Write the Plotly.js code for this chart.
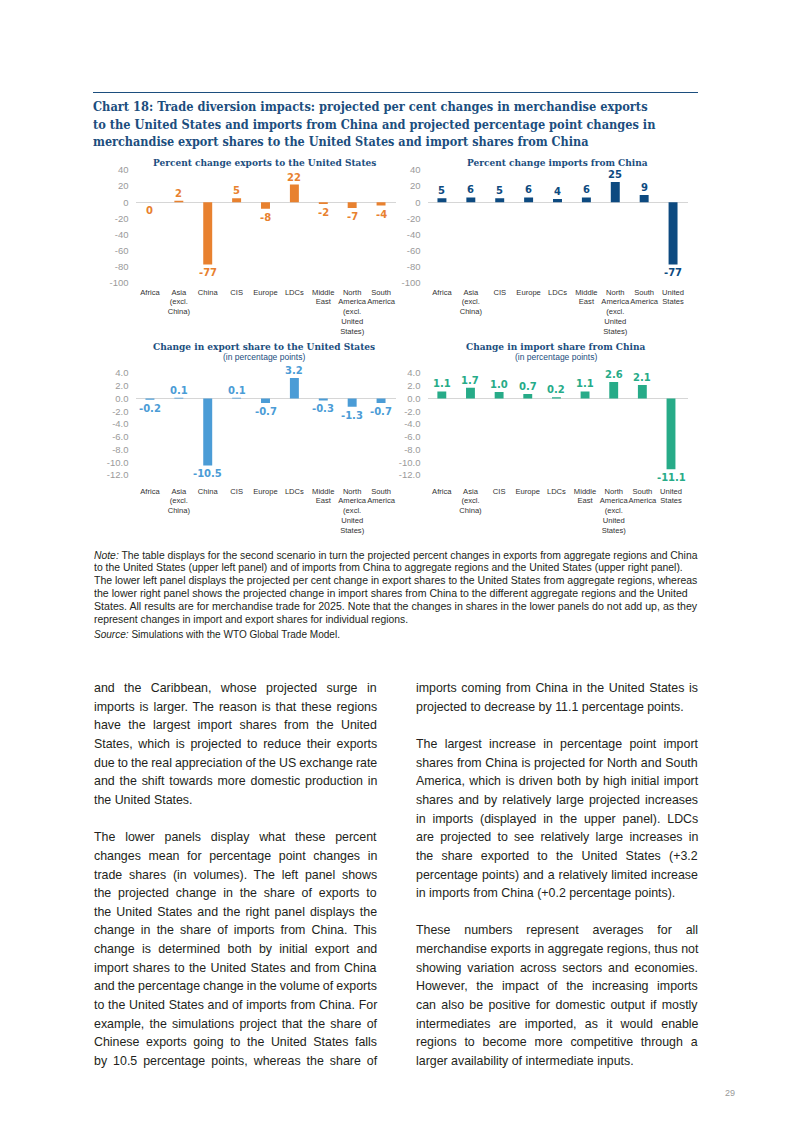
<!DOCTYPE html>
<html>
<head>
<meta charset="utf-8">
<script src="https://cdn.plot.ly/plotly-3.0.1.min.js"></script>
<style>
html,body{margin:0;padding:0;background:#fff;}
#page{position:relative;width:793px;height:1121px;overflow:hidden;background:#fff;}
#chart{position:absolute;left:0;top:0;width:793px;height:1121px;}
.ln{position:absolute;white-space:nowrap;}
</style>
</head>
<body>
<div id="page">
  <div id="chart"></div>
  <div id="text"></div>
</div>
<script>
// ---------------- DATA ----------------
const categoriesExport = ['Africa','Asia<br>(excl.<br>China)','China','CIS','Europe','LDCs','Middle<br>East','North<br>America<br>(excl.<br>United<br>States)','South<br>America'];
const categoriesImport = ['Africa','Asia<br>(excl.<br>China)','CIS','Europe','LDCs','Middle<br>East','North<br>America<br>(excl.<br>United<br>States)','South<br>America','United<br>States'];

const pctChangeExportsToUS = [0, 2, -77, 5, -8, 22, -2, -7, -4];
const pctChangeImportsFromChina = [5, 6, 5, 6, 4, 6, 25, 9, -77];
const exportShareChangeUS = [-0.2, 0.1, -10.5, 0.1, -0.7, 3.2, -0.3, -1.3, -0.7];
const importShareChangeChina = [1.1, 1.7, 1.0, 0.7, 0.2, 1.1, 2.6, 2.1, -11.1];

const pctTickVals = [40, 20, 0, -20, -40, -60, -80, -100];
const pctTickText = ['40', '20', '0', '-20', '-40', '-60', '-80', '-100'];
const ppTickVals = [4, 2, 0, -2, -4, -6, -8, -10, -12];
const ppTickText = ['4.0', '2.0', '0.0', '-2.0', '-4.0', '-6.0', '-8.0', '-10.0', '-12.0'];

const panelTitles = ['Percent change exports to the United States', 'Percent change imports from China',
                     'Change in export share to the United States', 'Change in import share from China'];
const panelSubtitle = '(in percentage points)';

// ---------------- LAYOUT HELPERS ----------------
const W = 793, H = 1121;
const fx = px => px / W;
const fy = py => 1 - py / H;

const colOrange = '#E8812F', colNavy = '#0D4A80', colLight = '#4B9CD6', colGreen = '#27AB88';
const titleBlue = '#1C4E7E';
const serifBold = '"DejaVu Serif Condensed", "DejaVu Serif", serif';
const sans = '"Liberation Sans", Arial, sans-serif';
const labelFont = '"DejaVu Sans", sans-serif';

const xLeftDom = [fx(135.5), fx(395.5)];
const xRightDom = [fx(427.5), fx(687.5)];
const yTopDom = [fy(286), fy(170)];
const yBotDom = [fy(485), fy(373)];

function xAxis(dom, anchor) {
  return {domain: dom, anchor: anchor, type: 'category', showgrid: false, showline: false, zeroline: false,
          ticks: '', tickfont: {family: sans, size: 7.6, color: '#333'}, tickangle: 0, fixedrange: true};
}
function yAxis(dom, anchor, range, vals, text) {
  return {domain: dom, anchor: anchor, range: range, tickvals: vals, ticktext: text, showgrid: false,
          showline: false, zeroline: true, zerolinecolor: '#d6d6d6', zerolinewidth: 1, ticks: '',
          ticklabelstandoff: 6, tickfont: {family: sans, size: 9.5, color: '#9a9a9a'}, fixedrange: true};
}
function barTrace(cats, vals, color, xa, ya) {
  return {type: 'bar', x: cats, y: vals, xaxis: xa, yaxis: ya, width: 0.31,
          marker: {color: color, line: {width: 0}}, hoverinfo: 'skip', showlegend: false};
}
function valueLabels(cats, vals, color, xa, ya, dec) {
  return vals.map((v, i) => ({
    xref: xa, yref: ya, x: cats[i], y: v, text: v.toFixed(dec), showarrow: false,
    yanchor: v > 0 ? 'bottom' : 'top', yshift: v > 0 ? 0 : -1,
    font: {family: labelFont, size: 10, color: color, weight: 'bold'}
  }));
}
function paperText(text, px, py, size, family, color, bold) {
  return {xref: 'paper', yref: 'paper', x: fx(px), y: fy(py), xanchor: 'center', yanchor: 'middle',
          text: bold ? '<b>' + text + '</b>' : text, showarrow: false,
          font: {family: family, size: size, color: color}};
}

const data = [
  barTrace(categoriesExport, pctChangeExportsToUS, colOrange, 'x', 'y'),
  barTrace(categoriesImport, pctChangeImportsFromChina, colNavy, 'x2', 'y2'),
  barTrace(categoriesExport, exportShareChangeUS, colLight, 'x3', 'y3'),
  barTrace(categoriesImport, importShareChangeChina, colGreen, 'x4', 'y4')
];

const annotations = [].concat(
  valueLabels(categoriesExport, pctChangeExportsToUS, colOrange, 'x', 'y', 0),
  valueLabels(categoriesImport, pctChangeImportsFromChina, colNavy, 'x2', 'y2', 0),
  valueLabels(categoriesExport, exportShareChangeUS, colLight, 'x3', 'y3', 1),
  valueLabels(categoriesImport, importShareChangeChina, colGreen, 'x4', 'y4', 1),
  [
    paperText(panelTitles[0], 264, 162, 10, serifBold, titleBlue, true),
    paperText(panelTitles[1], 557, 162, 10, serifBold, titleBlue, true),
    paperText(panelTitles[2], 264, 346, 10, serifBold, titleBlue, true),
    paperText(panelTitles[3], 556, 346, 10, serifBold, titleBlue, true),
    paperText(panelSubtitle, 264, 357, 8.5, sans, titleBlue, false),
    paperText(panelSubtitle, 556, 357, 8.5, sans, titleBlue, false)
  ]
);

const layout = {
  width: W, height: H, margin: {l: 0, r: 0, t: 0, b: 0},
  paper_bgcolor: 'rgba(0,0,0,0)', plot_bgcolor: 'rgba(0,0,0,0)',
  showlegend: false, bargap: 0.69,
  xaxis: xAxis(xLeftDom, 'y'),
  yaxis: yAxis(yTopDom, 'x', [-103.7, 40], pctTickVals, pctTickText),
  xaxis2: xAxis(xRightDom, 'y2'),
  yaxis2: yAxis(yTopDom, 'x2', [-103.7, 40], pctTickVals, pctTickText),
  xaxis3: xAxis(xLeftDom, 'y3'),
  yaxis3: yAxis(yBotDom, 'x3', [-13.57, 4], ppTickVals, ppTickText),
  xaxis4: xAxis(xRightDom, 'y4'),
  yaxis4: yAxis(yBotDom, 'x4', [-13.57, 4], ppTickVals, ppTickText),
  annotations: annotations
};

Plotly.newPlot('chart', data, layout, {staticPlot: true, displayModeBar: false});

// ---------------- PAGE TEXT ----------------
const chartTitleLines = [
  'Chart 18: Trade diversion impacts: projected per cent changes in merchandise exports',
  'to the United States and imports from China and projected percentage point changes in',
  'merchandise export shares to the United States and import shares from China'
];
const noteLines = [
  '<i>Note:</i> The table displays for the second scenario in turn the projected percent changes in exports from aggregate regions and China',
  'to the United States (upper left panel) and of imports from China to aggregate regions and the United States (upper right panel).',
  'The lower left panel displays the projected per cent change in export shares to the United States from aggregate regions, whereas',
  'the lower right panel shows the projected change in import shares from China to the different aggregate regions and the United',
  'States. All results are for merchandise trade for 2025. Note that the changes in shares in the lower panels do not add up, as they',
  'represent changes in import and export shares for individual regions.',
  '<i>Source:</i> Simulations with the WTO Global Trade Model.'
];
// null = blank line; lines ending a paragraph are marked with a leading '|'
const leftColumn = [
  'and the Caribbean, whose projected surge in',
  'imports is larger. The reason is that these regions',
  'have the largest import shares from the United',
  'States, which is projected to reduce their exports',
  'due to the real appreciation of the US exchange rate',
  'and the shift towards more domestic production in',
  '|the United States.',
  null,
  'The lower panels display what these percent',
  'changes mean for percentage point changes in',
  'trade shares (in volumes). The left panel shows',
  'the projected change in the share of exports to',
  'the United States and the right panel displays the',
  'change in the share of imports from China. This',
  'change is determined both by initial export and',
  'import shares to the United States and from China',
  'and the percentage change in the volume of exports',
  'to the United States and of imports from China. For',
  'example, the simulations project that the share of',
  'Chinese exports going to the United States falls',
  'by 10.5 percentage points, whereas the share of'
];
const rightColumn = [
  'imports coming from China in the United States is',
  '|projected to decrease by 11.1 percentage points.',
  null,
  'The largest increase in percentage point import',
  'shares from China is projected for North and South',
  'America, which is driven both by high initial import',
  'shares and by relatively large projected increases',
  'in imports (displayed in the upper panel). LDCs',
  'are projected to see relatively large increases in',
  'the share exported to the United States (+3.2',
  'percentage points) and a relatively limited increase',
  '|in imports from China (+0.2 percentage points).',
  null,
  'These numbers represent averages for all',
  'merchandise exports in aggregate regions, thus not',
  'showing variation across sectors and economies.',
  'However, the impact of the increasing imports',
  'can also be positive for domestic output if mostly',
  'intermediates are imported, as it would enable',
  'regions to become more competitive through a',
  '|larger availability of intermediate inputs.'
];

const textLayer = document.getElementById('text');
function addLine(html, x, cy, o) {
  const el = document.createElement('div');
  el.className = 'ln';
  el.innerHTML = html;
  const lh = o.lh || Math.round(o.size * 1.3);
  el.style.left = x + 'px';
  el.style.top = (cy - lh / 2) + 'px';
  el.style.lineHeight = lh + 'px';
  el.style.fontSize = o.size + 'px';
  el.style.fontFamily = o.family;
  el.style.fontWeight = o.weight || 'normal';
  el.style.color = o.color;
  textLayer.appendChild(el);
  if (o.target) {
    const w = el.offsetWidth;
    if (o.mode === 'scale') {
      el.style.transformOrigin = 'left center';
      el.style.transform = 'scaleX(' + (o.target / w) + ')';
    } else {
      const n = (el.textContent.match(/ /g) || []).length;
      if (n > 0) el.style.wordSpacing = ((o.target - w) / n) + 'px';
    }
  }
  return el;
}

function buildText() {
  textLayer.innerHTML = '';
  const rule = document.createElement('div');
  rule.style.cssText = 'position:absolute;left:93px;top:92px;width:605px;height:0;border-top:1px solid #1C4E7E;';
  textLayer.appendChild(rule);

  const titleY = [106, 124, 141];
  const titleW = [555, 562, 495];
  chartTitleLines.forEach((t, i) => addLine(t, 93, titleY[i], {
    size: 13.5, family: serifBold, weight: 'bold', color: titleBlue, target: titleW[i], mode: 'scale', lh: 17}));

  const noteY = [555, 567.8, 580.6, 593.4, 606.2, 619, 634];
  const noteW = [603, 589, 603, 594, 603, 314, 246];
  noteLines.forEach((t, i) => addLine(t, 94, noteY[i], {
    size: 10, family: sans, color: '#231f20', target: noteW[i], mode: 'scale', lh: 13}));

  const pitch = 18.65;
  function column(lines, x, width) {
    lines.forEach((t, i) => {
      if (t === null) return;
      const cy = 688 + i * pitch;
      const last = t.charAt(0) === '|';
      const txt = last ? t.slice(1) : t;
      addLine(txt, x, cy, {size: 12.4, family: sans, color: '#231f20', target: last ? null : width, lh: 18});
    });
  }
  column(leftColumn, 94, 283);
  column(rightColumn, 416, 282);

  const pn = addLine('29', 0, 1093, {size: 9, family: sans, color: '#9a9a9a', lh: 12});
  pn.style.left = (735 - pn.offsetWidth) + 'px';
}
buildText();
if (document.fonts && document.fonts.ready) document.fonts.ready.then(buildText);
</script>
</body>
</html>
